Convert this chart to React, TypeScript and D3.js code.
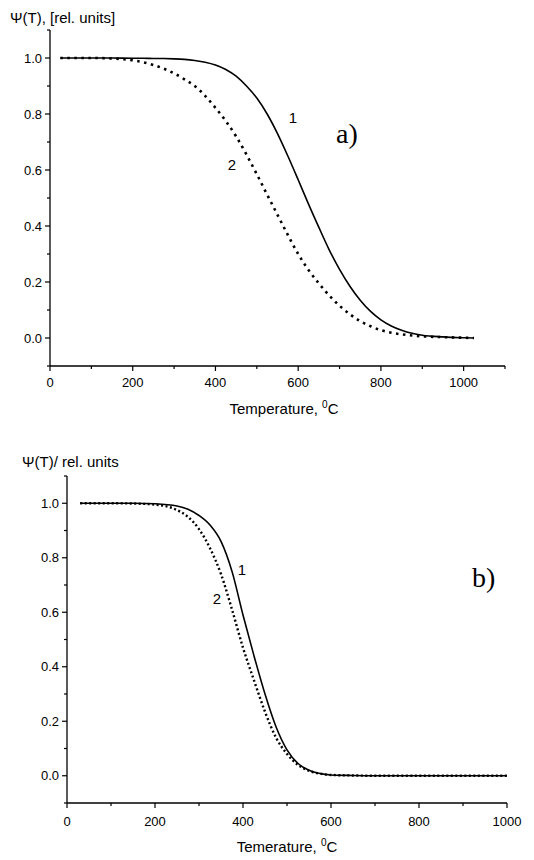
import React from "react";
import * as d3 from "d3";

// Panel a) data
const tempA = [25, 100, 150, 200, 225, 250, 275, 300, 325, 350, 375, 400, 425, 450, 475, 500, 525, 550, 575, 600, 625, 650, 675, 700, 725, 750, 775, 800, 825, 850, 875, 900, 950, 1000, 1025];
const psiA1 = [1.0, 1.0, 1.0, 0.999, 0.999, 0.998, 0.998, 0.997, 0.995, 0.991, 0.985, 0.975, 0.959, 0.935, 0.9, 0.857, 0.8, 0.73, 0.65, 0.565, 0.478, 0.395, 0.315, 0.245, 0.185, 0.135, 0.095, 0.065, 0.043, 0.028, 0.017, 0.01, 0.004, 0.001, 0.0];
const psiA2 = [1.0, 1.0, 0.998, 0.992, 0.985, 0.975, 0.962, 0.945, 0.924, 0.9, 0.865, 0.822, 0.775, 0.72, 0.655, 0.585, 0.512, 0.44, 0.368, 0.3, 0.243, 0.195, 0.152, 0.115, 0.085, 0.06, 0.042, 0.028, 0.019, 0.013, 0.009, 0.006, 0.003, 0.001, 0.0];

// Panel b) data
const tempB = [30, 100, 150, 200, 250, 275, 300, 325, 350, 375, 400, 425, 450, 475, 500, 525, 550, 575, 600, 650, 700, 800, 900, 1000];
const psiB1 = [1.0, 1.0, 1.0, 0.998, 0.99, 0.978, 0.955, 0.92, 0.86, 0.75, 0.59, 0.44, 0.3, 0.18, 0.095, 0.045, 0.02, 0.008, 0.003, 0.001, 0.0, 0.0, 0.0, 0.0];
const psiB2 = [1.0, 1.0, 0.999, 0.995, 0.975, 0.95, 0.905, 0.835, 0.74, 0.61, 0.47, 0.35, 0.235, 0.14, 0.08, 0.04, 0.018, 0.008, 0.003, 0.001, 0.0, 0.0, 0.0, 0.0];

const yTicks = [0.0, 0.2, 0.4, 0.6, 0.8, 1.0];
const yMinor = [-0.1, 0.1, 0.3, 0.5, 0.7, 0.9, 1.1];
const xTicksA = [0, 200, 400, 600, 800, 1000];
const xMinorA = [100, 300, 500, 700, 900, 1100];
const xTicksB = [0, 200, 400, 600, 800, 1000];
const xMinorB = [100, 300, 500, 700, 900];

const SANS = "'Liberation Sans', Arial, sans-serif";
const SERIF = "'Liberation Serif', 'Times New Roman', serif";

type PanelProps = {
  x0: number; x1: number; xMax: number;
  yTop: number; yBottom: number;
  temps: number[]; s1: number[]; s2: number[];
  xTicks: number[]; xMinor: number[];
  yLabel: string; yLabelX: number; yLabelY: number;
  xTitle: string; xTitleX: number; xTitleY: number;
  xLabelY: number;
  lab1: [number, number]; lab2: [number, number];
  letter: string; letterPos: [number, number];
  dash: string; dotW: number;
};

function Panel(p: PanelProps) {
  const x = d3.scaleLinear().domain([0, p.xMax]).range([p.x0, p.x1]);
  const y = d3.scaleLinear().domain([-0.1, 1.1]).range([p.yBottom, p.yTop]);
  const line = d3
    .line<number>()
    .x((_, i) => x(p.temps[i]))
    .y((d) => y(d))
    .curve(d3.curveMonotoneX);
  return (
    <g>
      <line x1={p.x0} x2={p.x0} y1={p.yTop} y2={p.yBottom} stroke="#000" strokeWidth={1.3} />
      <line x1={p.x0} x2={p.x1} y1={p.yBottom} y2={p.yBottom} stroke="#000" strokeWidth={1.3} />
      {yTicks.map((t) => (
        <g key={"y" + t}>
          <line x1={p.x0 - 5} x2={p.x0} y1={y(t)} y2={y(t)} stroke="#000" strokeWidth={1.2} />
          <text x={p.x0 - 8} y={y(t)} dy="0.36em" textAnchor="end" fontFamily={SANS} fontSize={13}>
            {d3.format(".1f")(t)}
          </text>
        </g>
      ))}
      {yMinor.map((t) => (
        <line key={"ym" + t} x1={p.x0 - 3} x2={p.x0} y1={y(t)} y2={y(t)} stroke="#000" strokeWidth={1.2} />
      ))}
      {p.xTicks.map((t) => (
        <g key={"x" + t}>
          <line x1={x(t)} x2={x(t)} y1={p.yBottom} y2={p.yBottom + 5} stroke="#000" strokeWidth={1.2} />
          <text x={x(t)} y={p.xLabelY} textAnchor="middle" fontFamily={SANS} fontSize={13}>
            {t}
          </text>
        </g>
      ))}
      {p.xMinor.map((t) => (
        <line key={"xm" + t} x1={x(t)} x2={x(t)} y1={p.yBottom} y2={p.yBottom + 3} stroke="#000" strokeWidth={1.2} />
      ))}
      <path d={line(p.s1) || ""} fill="none" stroke="#000" strokeWidth={1.6} />
      <path d={line(p.s2) || ""} fill="none" stroke="#000" strokeWidth={p.dotW} strokeDasharray={p.dash} />
      <text x={p.yLabelX} y={p.yLabelY} fontFamily={SANS} fontSize={15}>
        {p.yLabel}
      </text>
      <text x={p.xTitleX} y={p.xTitleY} textAnchor="middle" fontFamily={SANS} fontSize={15}>
        {p.xTitle}
        <tspan fontSize={10} dy={-6}>0</tspan>
        <tspan dy={6}>C</tspan>
      </text>
      <text x={p.lab1[0]} y={p.lab1[1]} dy="0.36em" textAnchor="middle" fontFamily={SANS} fontSize={15}>1</text>
      <text x={p.lab2[0]} y={p.lab2[1]} dy="0.36em" textAnchor="middle" fontFamily={SANS} fontSize={15}>2</text>
      <text x={p.letterPos[0]} y={p.letterPos[1]} fontFamily={SERIF} fontSize={28}>
        {p.letter}
      </text>
    </g>
  );
}

export default function App() {
  return (
    <svg
      width={534}
      height={860}
      style={{ position: "absolute", left: 0, top: 0, background: "#fff" }}
    >
      <rect width={534} height={860} fill="#fff" />
      <Panel
        x0={50} x1={505} xMax={1100}
        yTop={30} yBottom={366}
        temps={tempA} s1={psiA1} s2={psiA2}
        xTicks={xTicksA} xMinor={xMinorA}
        yLabel="Ψ(T), [rel. units]" yLabelX={10} yLabelY={23}
        xTitle="Temperature, " xTitleX={284} xTitleY={414}
        xLabelY={387}
        lab1={[293, 118]} lab2={[232, 165]}
        letter="a)" letterPos={[336, 143]}
        dash="2.5 4.5" dotW={2.6}
      />
      <Panel
        x0={67} x1={507} xMax={1000}
        yTop={476} yBottom={803}
        temps={tempB} s1={psiB1} s2={psiB2}
        xTicks={xTicksB} xMinor={xMinorB}
        yLabel="Ψ(T)/ rel. units" yLabelX={22} yLabelY={467}
        xTitle="Temerature, " xTitleX={287} xTitleY={852}
        xLabelY={826}
        lab1={[242, 570]} lab2={[217, 599]}
        letter="b)" letterPos={[472, 587]}
        dash="2 2.5" dotW={2.4}
      />
    </svg>
  );
}
